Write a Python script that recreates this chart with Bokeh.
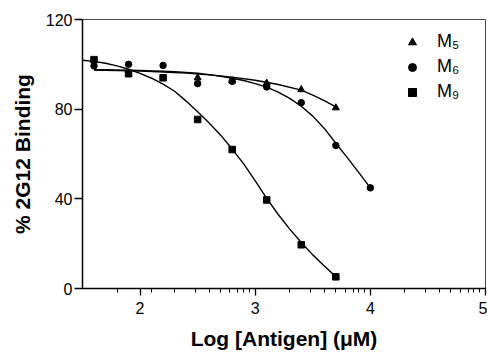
from bokeh.plotting import figure
from bokeh.models import FixedTicker, Legend, LegendItem, Range1d
from bokeh.embed import file_html
from bokeh.resources import INLINE

# measured points
x_m5 = [2.5, 2.8, 3.1, 3.4, 3.7]
y_m5 = [94.0, 92.6, 91.6, 88.7, 80.6]
x_m6 = [1.6, 1.9, 2.2, 2.5, 2.8, 3.1, 3.4, 3.7, 4.0]
y_m6 = [99.3, 100.0, 99.5, 91.4, 92.4, 89.9, 82.9, 63.8, 44.9]
x_m9 = [1.6, 1.9, 2.2, 2.5, 2.8, 3.1, 3.4, 3.7]
y_m9 = [102.1, 95.8, 94.0, 75.4, 62.0, 39.5, 19.5, 5.2]

# fitted curves
fit_x_m5 = [1.6, 1.8, 2.0, 2.2, 2.4, 2.6, 2.8, 3.0, 3.2, 3.4, 3.5, 3.6, 3.7]
fit_y_m5 = [97.4, 97.2, 97.0, 96.6, 96.1, 95.3, 94.3, 92.9, 91.0, 88.5, 86.3, 83.8, 81.0]
fit_x_m6 = [1.6, 1.7, 1.8, 1.9, 2.0, 2.1, 2.2, 2.3, 2.4, 2.5, 2.6, 2.7, 2.8,
            2.9, 3.0, 3.1, 3.2, 3.3, 3.4, 3.5, 3.6, 3.7, 3.8, 3.9, 4.0]
fit_y_m6 = [97.6, 97.6, 97.5, 97.4, 97.3, 97.1, 96.9, 96.7, 96.4, 96.0, 95.4, 94.7, 93.8,
            92.8, 91.4, 89.8, 87.6, 84.8, 81.3, 76.9, 71.4, 64.8, 58.4, 51.7, 44.9]
fit_x_m9 = [1.5, 1.6, 1.7, 1.8, 1.9, 2.0, 2.1, 2.2, 2.3, 2.4, 2.5, 2.6, 2.7,
            2.8, 2.9, 3.0, 3.1, 3.2, 3.3, 3.4, 3.5, 3.6, 3.7]
fit_y_m9 = [101.8, 101.3, 100.5, 99.3, 97.8, 96.0, 93.8, 91.2, 88.0, 83.6, 78.8, 73.8, 68.4,
            62.2, 55.6, 48.0, 40.2, 33.0, 26.5, 20.5, 15.0, 10.0, 5.3]

labels = ["M\u2085", "M\u2086", "M\u2089"]
x_major_ticks = [2, 3, 4, 5]
x_minor_ticks = [1.8, 2.1, 2.3, 2.48, 2.6, 2.7, 2.78, 2.85, 2.9, 2.95,
                 3.3, 3.48, 3.6, 3.7, 3.78, 3.85, 3.9, 3.95,
                 4.3, 4.48, 4.6, 4.7, 4.78, 4.85, 4.9, 4.95]
y_ticks = [0, 40, 80, 120]

p = figure(frame_width=403, frame_height=269, output_backend="svg", toolbar_location=None,
           x_range=Range1d(1.5, 5), y_range=Range1d(0, 120),
           min_border_left=82, min_border_top=19, min_border_right=2, min_border_bottom=68,
           background_fill_color="white", border_fill_color="white")
p.grid.visible = False
p.outline_line_color = "#444444"
p.outline_line_width = 1

for fx, fy in ((fit_x_m5, fit_y_m5), (fit_x_m6, fit_y_m6), (fit_x_m9, fit_y_m9)):
    p.line(fx, fy, line_color="black", line_width=1.4)

r5 = p.scatter(x_m5, y_m5, marker="triangle", size=7, color="black")
r6 = p.scatter(x_m6, y_m6, marker="circle", size=6.5, color="black")
r9 = p.scatter(x_m9, y_m9, marker="square", size=6.5, color="black")

legend = Legend(items=[LegendItem(label=labels[0], renderers=[r5]),
                       LegendItem(label=labels[1], renderers=[r6]),
                       LegendItem(label=labels[2], renderers=[r9])],
                location=(320, 186), orientation="vertical",
                padding=0, spacing=4, glyph_width=20, glyph_height=20,
                label_height=20, label_standoff=15, margin=0,
                border_line_color=None, background_fill_alpha=0,
                label_text_font="Liberation Sans", label_text_font_size="18px",
                label_text_color="black")
p.add_layout(legend, "center")

xa = p.xaxis[0]
xa.ticker = FixedTicker(ticks=x_major_ticks, minor_ticks=x_minor_ticks)
ya = p.yaxis[0]
ya.ticker = FixedTicker(ticks=y_ticks, minor_ticks=[])

for ax in (xa, ya):
    ax.axis_line_color = "black"
    ax.axis_line_width = 1.5
    ax.major_tick_line_color = "black"
    ax.major_tick_line_width = 1.3
    ax.minor_tick_line_color = "black"
    ax.minor_tick_line_width = 1
    ax.major_tick_in = 0
    ax.minor_tick_in = 0
    ax.major_tick_out = 7
    ax.minor_tick_out = 4
    ax.major_label_text_font = "Liberation Sans"
    ax.major_label_text_font_size = "16px"
    ax.major_label_text_color = "black"
    ax.axis_label_text_font = "Liberation Sans"
    ax.axis_label_text_font_style = "bold"
    ax.axis_label_text_font_size = "21px"
    ax.axis_label_text_color = "black"

ya.major_tick_out = 8
xa.axis_label = "Log [Antigen] (\u03bcM)"
ya.axis_label = "% 2G12 Binding"
xa.major_label_standoff = 6
xa.axis_label_standoff = 10
ya.major_label_standoff = 2
ya.axis_label_standoff = 9

open("out.html", "w").write(file_html(p, INLINE))
